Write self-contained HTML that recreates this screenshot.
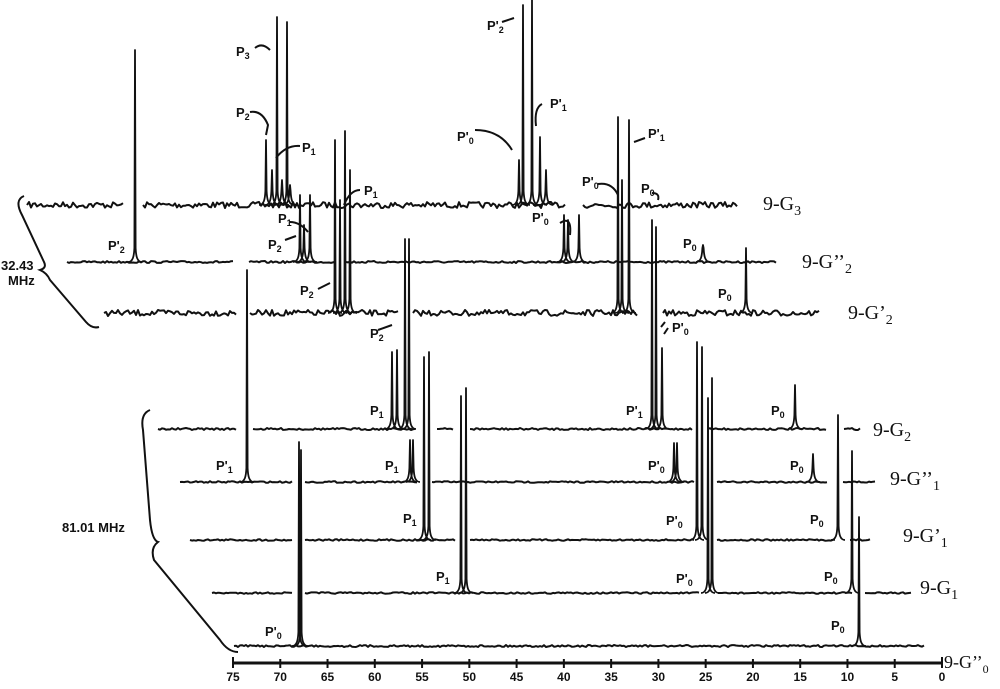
<!DOCTYPE html>
<html><head><meta charset="utf-8"><style>
html,body{margin:0;padding:0;background:#fff;}
svg{display:block;}
.l{font-family:"Liberation Sans",Arial,sans-serif;font-weight:bold;font-size:13px;fill:#111;}
.s{font-size:9px;}
.g{font-family:"Liberation Serif",serif;font-size:20px;fill:#111;}
.gs{font-size:14px;}
.ax{font-family:"Liberation Sans",Arial,sans-serif;font-weight:bold;font-size:12px;fill:#111;}
</style></head><body>
<svg id="s" width="1000" height="689" viewBox="0 0 1000 689" xmlns="http://www.w3.org/2000/svg">
<g id="tr" fill="none" stroke="#111" stroke-width="2" stroke-linejoin="round"></g>
<g fill="none" stroke="#111" stroke-width="2">
<path d="M24,196 Q14,200 22,215 L44,262 Q47,268 40,270 Q47,273 50,280 L86,322 Q92,329 99,327"/>
<path d="M150,410 Q140,414 143,430 L150,520 Q152,540 158,542 Q150,548 154,560 L220,640 Q228,652 238,652"/>
<path d="M255,48 Q262,42 270,50"/>
<path d="M250,112 Q262,110 268,125 L266,135"/>
<path d="M300,146 Q286,145 276,158"/>
<path d="M360,190 Q350,190 344,205"/>
<path d="M290,222 Q300,222 308,232"/>
<path d="M285,240 L296,236"/>
<path d="M318,289 L330,283"/>
<path d="M378,330 L392,325"/>
<path d="M502,22 L514,18"/>
<path d="M542,104 Q534,108 536,126"/>
<path d="M475,130 Q500,130 512,150"/>
<path d="M645,138 L634,142"/>
<path d="M598,184 Q612,182 618,195"/>
<path d="M652,193 Q660,193 658,200"/>
<path d="M560,223 Q572,215 570,235"/>
<path d="M661,327 L665,322 M664,334 L668,328"/>
</g>
<g class="l">
<text x="236" y="56">P<tspan class="s" dy="3">3</tspan></text>
<text x="236" y="117">P<tspan class="s" dy="3">2</tspan></text>
<text x="302" y="152">P<tspan class="s" dy="3">1</tspan></text>
<text x="108" y="250">P'<tspan class="s" dy="3">2</tspan></text>
<text x="364" y="195">P<tspan class="s" dy="3">1</tspan></text>
<text x="278" y="223">P<tspan class="s" dy="3">1</tspan></text>
<text x="268" y="249">P<tspan class="s" dy="3">2</tspan></text>
<text x="300" y="295">P<tspan class="s" dy="3">2</tspan></text>
<text x="370" y="338">P<tspan class="s" dy="3">2</tspan></text>
<text x="487" y="30">P'<tspan class="s" dy="3">2</tspan></text>
<text x="550" y="108">P'<tspan class="s" dy="3">1</tspan></text>
<text x="457" y="141">P'<tspan class="s" dy="3">0</tspan></text>
<text x="648" y="138">P'<tspan class="s" dy="3">1</tspan></text>
<text x="582" y="186">P'<tspan class="s" dy="3">0</tspan></text>
<text x="641" y="193">P<tspan class="s" dy="3">0</tspan></text>
<text x="532" y="222">P'<tspan class="s" dy="3">0</tspan></text>
<text x="683" y="248">P<tspan class="s" dy="3">0</tspan></text>
<text x="718" y="298">P<tspan class="s" dy="3">0</tspan></text>
<text x="672" y="332">P'<tspan class="s" dy="3">0</tspan></text>
<text x="370" y="415">P<tspan class="s" dy="3">1</tspan></text>
<text x="626" y="415">P'<tspan class="s" dy="3">1</tspan></text>
<text x="771" y="415">P<tspan class="s" dy="3">0</tspan></text>
<text x="216" y="470">P'<tspan class="s" dy="3">1</tspan></text>
<text x="385" y="470">P<tspan class="s" dy="3">1</tspan></text>
<text x="648" y="470">P'<tspan class="s" dy="3">0</tspan></text>
<text x="790" y="470">P<tspan class="s" dy="3">0</tspan></text>
<text x="403" y="523">P<tspan class="s" dy="3">1</tspan></text>
<text x="666" y="525">P'<tspan class="s" dy="3">0</tspan></text>
<text x="810" y="524">P<tspan class="s" dy="3">0</tspan></text>
<text x="436" y="581">P<tspan class="s" dy="3">1</tspan></text>
<text x="676" y="583">P'<tspan class="s" dy="3">0</tspan></text>
<text x="824" y="581">P<tspan class="s" dy="3">0</tspan></text>
<text x="265" y="636">P'<tspan class="s" dy="3">0</tspan></text>
<text x="831" y="630">P<tspan class="s" dy="3">0</tspan></text>
<text x="1" y="270" font-size="13">32.43</text>
<text x="8" y="285" font-size="13">MHz</text>
<text x="62" y="532" font-size="13">81.01 MHz</text>
</g>
<g class="g">
<text x="763" y="210">9-G<tspan class="gs" dy="5">3</tspan></text>
<text x="802" y="268">9-G’’<tspan class="gs" dy="5">2</tspan></text>
<text x="848" y="319">9-G’<tspan class="gs" dy="5">2</tspan></text>
<text x="873" y="436">9-G<tspan class="gs" dy="5">2</tspan></text>
<text x="890" y="485">9-G’’<tspan class="gs" dy="5">1</tspan></text>
<text x="903" y="542">9-G’<tspan class="gs" dy="5">1</tspan></text>
<text x="920" y="594">9-G<tspan class="gs" dy="5">1</tspan></text>
<text x="944" y="668" font-size="18">9-G’’<tspan font-size="12" dy="5">0</tspan></text>
</g>
<g id="axis" stroke="#111" stroke-width="3"><line x1="233" y1="663" x2="942" y2="663"/></g>
<g id="axl" class="ax" text-anchor="middle"></g>
</svg>
<script>
var NS="http://www.w3.org/2000/svg";
var seed=7;function rnd(){seed=(seed*16807)%2147483647;return seed/2147483647;}
var T=[
{y:205,n:3,segs:[[27,123],[143,565],[583,738]],p:[[266,140],[272,170],[277,17],[282,180],[287,22],[290,185],[519,160],[523,5],[532,0],[540,137],[546,170]]},
{y:262,n:1,segs:[[67,234],[249,336],[346,777]],p:[[135,50],[300,195],[304,225],[310,195],[564,215],[568,220],[579,215],[703,245]]},
{y:313,n:3,segs:[[104,236],[250,398],[413,638],[663,820]],p:[[335,140],[340,200],[345,131],[350,170],[618,117],[622,180],[629,120],[746,248]]},
{y:429,n:1,segs:[[158,237],[253,415],[437,453],[470,692],[708,827],[844,860]],p:[[392,352],[397,350],[405,239],[409,239],[652,220],[656,227],[662,348],[795,385]]},
{y:482,n:0.8,segs:[[180,292],[305,418],[432,694],[717,827],[843,876]],p:[[247,270],[410,440],[413,440],[674,443],[677,443],[813,454]]},
{y:540,n:0.8,segs:[[190,292],[305,455],[470,694],[717,835],[850,870]],p:[[424,357],[429,352],[697,342],[702,347],[838,415]]},
{y:593,n:0.8,segs:[[212,292],[305,700],[718,852],[865,912]],p:[[461,396],[466,388],[708,398],[712,378],[852,451]]},
{y:646,n:1,segs:[[234,925]],p:[[299,442],[301,450],[859,517]]}
];
var g=document.getElementById("tr");
function path(d,w){var e=document.createElementNS(NS,"path");e.setAttribute("d",d);if(w)e.setAttribute("stroke-width",w);g.appendChild(e);}
T.forEach(function(t){
 t.segs.forEach(function(s){var d="M"+s[0]+","+t.y;for(var x=s[0]+2;x<=s[1];x+=2){d+=" L"+x+","+(t.y+(rnd()-0.5)*t.n*2).toFixed(1);}path(d);});
 t.p.forEach(function(p){var x=p[0],b=t.y,top=p[1];
  var d="M"+(x-7)+","+b+" C"+(x-2)+","+b+" "+(x-1)+","+(b-6)+" "+(x-0.6)+","+(b-14)+" L"+x+","+top+" L"+(x+0.6)+","+(b-14)+" C"+(x+1)+","+(b-6)+" "+(x+2)+","+b+" "+(x+7)+","+b;
  path(d,1.8);});
});
var ax=document.getElementById("axis"),al=document.getElementById("axl");
for(var v=0;v<=75;v+=5){var x=942-v*709/75;var l=document.createElementNS(NS,"line");l.setAttribute("x1",x);l.setAttribute("x2",x);l.setAttribute("y1",(v==0||v==75)?657:659);l.setAttribute("y2",668);l.setAttribute("stroke-width",2);ax.appendChild(l);
var t=document.createElementNS(NS,"text");t.setAttribute("x",x);t.setAttribute("y",681);t.textContent=v;al.appendChild(t);}
</script>
</body></html>
